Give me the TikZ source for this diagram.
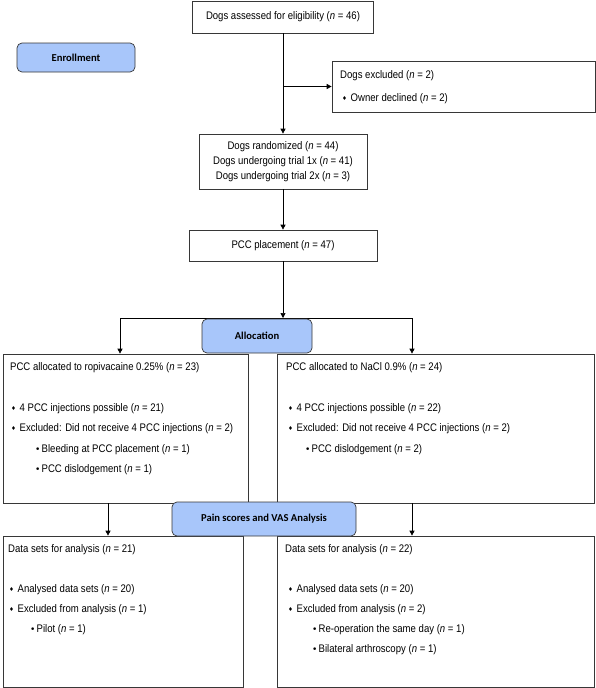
\documentclass[tikz,border=0pt]{standalone}
\usepackage{fontspec}
\setmainfont[FakeStretch=0.87]{Liberation Sans}
\newfontfamily\phasefont{Carlito}
\newfontfamily\symfont{DejaVu Sans}
\usepackage{xcolor}
\definecolor{cfblue}{RGB}{168,198,250}
\definecolor{cfline}{RGB}{55,55,55}
\usetikzlibrary{arrows.meta,positioning,calc}
\newcommand{\nn}{\textit{n}}
\newcommand{\dia}{\makebox[8.5pt][l]{\raisebox{1pt}{\symfont\fontsize{5.5}{5}\selectfont ♦}}}
\newcommand{\bul}{\makebox[6.5pt][l]{\raisebox{0.3pt}{\symfont\fontsize{9}{6}\selectfont •}}}
\tikzset{
  box/.style={draw=cfline,line width=0.7pt,inner sep=0pt,align=center,font=\fontsize{11}{15}\selectfont},
  phase/.style={draw=cfline,line width=0.7pt,rounded corners=5pt,fill=cfblue,inner sep=0pt,font=\phasefont\bfseries\fontsize{10.6}{12}\selectfont},
  item/.style={anchor=west,inner sep=0pt,font=\fontsize{11}{13}\selectfont},
  flow/.style={-{Triangle[length=5pt,width=5pt]},draw=black,line width=0.7pt},
}
\begin{document}
\begin{tikzpicture}[x=1pt,y=-1pt]
\useasboundingbox (0,0) rectangle (596,688);

% Enrollment
\node[box,minimum width=181pt,minimum height=32pt] (assess) at (283,17) {Dogs assessed for eligibility (\nn{} = 46)};
\node[phase,minimum width=118pt,minimum height=29pt] (enrol) at (76,57.5) {Enrollment};
\node[box,minimum width=263pt,minimum height=51pt] (excl) at (463.5,86.5) {};
\node[item] (e0) at (340,76) {Dogs excluded (\nn{} = 2)};
\node[item] (e1) at (342,99) {\dia Owner declined (\nn{} = 2)};
\node[box,minimum width=168pt,minimum height=55pt] (rand) at (283,161.5) {Dogs randomized (\nn{} = 44)\\Dogs undergoing trial 1x (\nn{} = 41)\\Dogs undergoing trial 2x (\nn{} = 3)};
\node[box,minimum width=188pt,minimum height=31pt] (place) at (283,245.5) {PCC placement (\nn{} = 47)};

\draw[flow] (assess) -- (rand);
\draw[flow] (assess.south |- excl.west) -- (excl.west);
\draw[flow] (rand) -- (place);

% Allocation
\node[box,minimum width=245pt,minimum height=149pt] (ropi) at (125.5,428.5) {};
\node[box,minimum width=317pt,minimum height=149pt] (nacl) at (435.5,428.5) {};
\coordinate (lsplit) at (120,318);
\coordinate (rsplit) at (412,318);
\draw[flow] (place) -- (place.south |- lsplit);
\draw (lsplit) -- (rsplit);
\draw[flow] (lsplit) -- (lsplit |- ropi.north);
\draw[flow] (rsplit) -- (rsplit |- nacl.north);
\node[phase,minimum width=110pt,minimum height=34pt] (alloc) at (257,336) {Allocation};

\node[item] (r0) at (10,368) {PCC allocated to ropivacaine 0.25\% (\nn{} = 23)};
\node[item] (r1) at (11,409) {\dia 4 PCC injections possible (\nn{} = 21)};
\node[item] (r2) at (11,429) {\dia Excluded: Did not receive 4 PCC injections (\nn{} = 2)};
\node[item] (r3) at (35,450) {\bul Bleeding at PCC placement (\nn{} = 1)};
\node[item] (r4) at (35,470) {\bul PCC dislodgement (\nn{} = 1)};

\node[item] (n0) at (286,368) {PCC allocated to NaCl 0.9\% (\nn{} = 24)};
\node[item] (n1) at (288,409) {\dia 4 PCC injections possible (\nn{} = 22)};
\node[item] (n2) at (288,429) {\dia Excluded: Did not receive 4 PCC injections (\nn{} = 2)};
\node[item] (n3) at (305,450) {\bul PCC dislodgement (\nn{} = 2)};

% Pain scores and VAS analysis
\node[box,minimum width=240pt,minimum height=151pt] (datal) at (123,611.5) {};
\node[box,minimum width=317pt,minimum height=151pt] (datar) at (435.5,611.5) {};
\coordinate (ldrop) at (108,503);
\coordinate (rdrop) at (412,503);
\draw[flow] (ldrop) -- (ldrop |- datal.north);
\draw[flow] (rdrop) -- (rdrop |- datar.north);
\node[phase,minimum width=184pt,minimum height=34pt] (pain) at (264,519) {Pain scores and VAS Analysis};

\node[item] (a0) at (8,550) {Data sets for analysis (\nn{} = 21)};
\node[item] (a1) at (9,590) {\dia Analysed data sets (\nn{} = 20)};
\node[item] (a2) at (9,610) {\dia Excluded from analysis (\nn{} = 1)};
\node[item] (a3) at (30,630) {\bul Pilot (\nn{} = 1)};

\node[item] (b0) at (285,550) {Data sets for analysis (\nn{} = 22)};
\node[item] (b1) at (288,590) {\dia Analysed data sets (\nn{} = 20)};
\node[item] (b2) at (288,610) {\dia Excluded from analysis (\nn{} = 2)};
\node[item] (b3) at (312,630) {\bul Re-operation the same day (\nn{} = 1)};
\node[item] (b4) at (312,650) {\bul Bilateral arthroscopy (\nn{} = 1)};
\end{tikzpicture}
\end{document}
